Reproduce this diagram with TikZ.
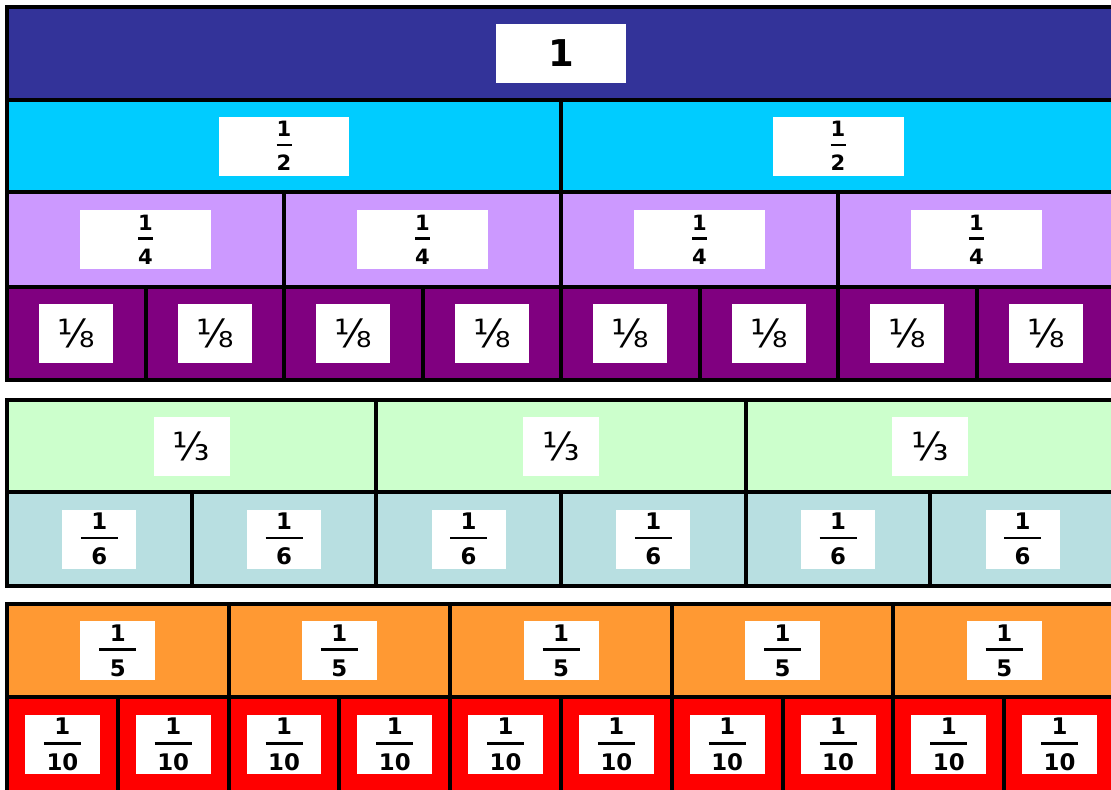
\documentclass[tikz,border=0pt]{standalone}
\usepackage{fontspec}
\setmainfont{DejaVu Sans}
\usepackage{tikz}
\definecolor{unoAzul}{HTML}{333399}
\definecolor{medioCian}{HTML}{00CCFF}
\definecolor{cuartoLila}{HTML}{CC99FF}
\definecolor{octavoMorado}{HTML}{800080}
\definecolor{tercioVerde}{HTML}{CCFFCC}
\definecolor{sextoGris}{HTML}{B8DFE1}
\definecolor{quintoNaranja}{HTML}{FF9933}
\definecolor{decimoRojo}{HTML}{FF0000}
\newcommand{\apilado}[3][0.74cm]{\shortstack{#2\\[1pt]\rule{#1}{1.5pt}\\[2pt]#3}}

\begin{document}
\begin{tikzpicture}[x=0.02cm,y=-0.02cm,
    pieza/.style={draw=black,line width=0.08cm,fill=#1},
    etiqueta/.style={fill=white,inner sep=0pt,minimum height=1.18cm,minimum width=#1}]
  \useasboundingbox (0,0) rectangle (1111,789);
  \clip (0,0) rectangle (1111,789);
  % filas del muro: arriba/abajo/partes/color/ancho etiqueta/texto
  \foreach \yt/\yb/\n/\col/\ancho/\lab [count=\r] in {
      7/100/1/unoAzul/2.62cm/{\fontsize{21}{21}\selectfont\bfseries 1},
      100/192/2/medioCian/2.62cm/{\fontsize{12}{12}\selectfont\bfseries\apilado[0.3cm]{1}{2}},
      192/287/4/cuartoLila/2.62cm/{\fontsize{12}{12}\selectfont\bfseries\apilado[0.3cm]{1}{4}},
      287/380/8/octavoMorado/1.48cm/{\fontsize{22}{22}\selectfont ⅛},
      400/492/3/tercioVerde/1.52cm/{\fontsize{22}{22}\selectfont ⅓},
      492/586/6/sextoGris/1.48cm/{\fontsize{13}{13}\selectfont\bfseries\apilado{1}{6}},
      604/697/5/quintoNaranja/1.5cm/{\fontsize{13}{13}\selectfont\bfseries\apilado{1}{5}},
      697/792/10/decimoRojo/1.5cm/{\fontsize{13}{13}\selectfont\bfseries\apilado{1}{10}}} {
    \foreach \i in {1,...,\n} {
      \draw[pieza=\col] ({7+(\i-1)*1108/\n},\yt) rectangle ({7+\i*1108/\n},\yb);
      \node[etiqueta=\ancho] (f\r-\i) at ({7+(\i-0.5)*1108/\n},{(\yt+\yb)/2}) {\lab};
    }
  }
\end{tikzpicture}
\end{document}
